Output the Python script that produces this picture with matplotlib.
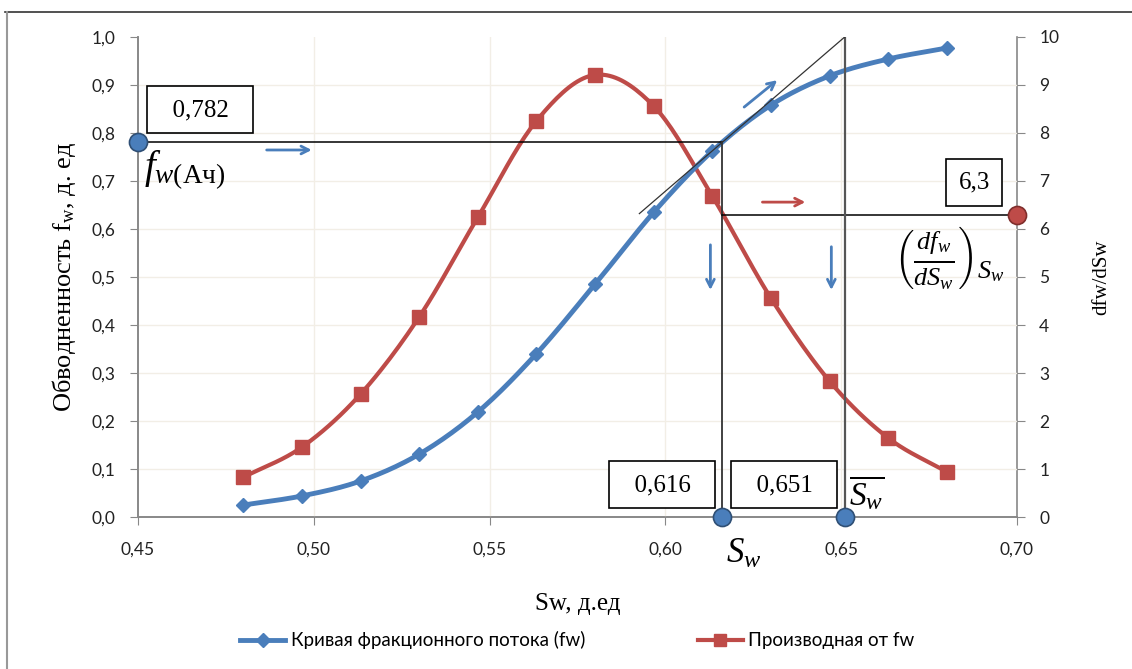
import numpy as np
import matplotlib
matplotlib.use("Agg")
import matplotlib.pyplot as plt
from matplotlib.lines import Line2D

# water saturation and fractional-flow values
sw = [0.48, 0.4967, 0.5133, 0.53, 0.5467, 0.5633, 0.58, 0.5967, 0.6133, 0.63, 0.6467, 0.6633, 0.68]
fw = [0.025, 0.044, 0.075, 0.131, 0.219, 0.340, 0.485, 0.635, 0.762, 0.858, 0.919, 0.954, 0.977]
dfw = [0.83, 1.46, 2.56, 4.17, 6.25, 8.25, 9.21, 8.56, 6.69, 4.56, 2.83, 1.65, 0.94]

fw_front = 0.782      # fw at the front
sw_front = 0.616      # Sw at the front
sw_avg = 0.651        # average Sw behind the front
dfw_front = 6.3       # slope of the tangent

x_ticks = [0.45, 0.50, 0.55, 0.60, 0.65, 0.70]
y_ticks = [i / 10 for i in range(11)]
y2_ticks = list(range(11))

BLUE = "#4A7EBB"
RED = "#BE4B48"
GRID = "#F2EEE6"

plt.rcParams["mathtext.fontset"] = "custom"
plt.rcParams["mathtext.rm"] = "Liberation Serif"
plt.rcParams["mathtext.it"] = "Liberation Serif:italic"
plt.rcParams["mathtext.bf"] = "Liberation Serif:bold"


def smooth(x, y, n=20):
    # Catmull-Rom curve through the points, like a smoothed spreadsheet line
    x = np.asarray(x, float)
    y = np.asarray(y, float)
    px = np.concatenate([[2 * x[0] - x[1]], x, [2 * x[-1] - x[-2]]])
    py = np.concatenate([[2 * y[0] - y[1]], y, [2 * y[-1] - y[-2]]])
    t = np.linspace(0, 1, n, endpoint=False)
    ox, oy = [], []
    for i in range(1, len(px) - 2):
        for p, out in ((px, ox), (py, oy)):
            p0, p1, p2, p3 = p[i - 1], p[i], p[i + 1], p[i + 2]
            out.extend(0.5 * (2 * p1 + (-p0 + p2) * t + (2 * p0 - 5 * p1 + 4 * p2 - p3) * t ** 2
                              + (-p0 + 3 * p1 - 3 * p2 + p3) * t ** 3))
    ox.append(x[-1])
    oy.append(y[-1])
    return np.array(ox), np.array(oy)


fig = plt.figure(figsize=(11.32, 6.69), dpi=100)
ax = fig.add_axes([0.1219, 0.2272, 0.7765, 0.7175])
ax2 = ax.twinx()
ax.set_zorder(ax2.get_zorder() + 1)
ax.patch.set_visible(False)
ax2.patch.set_facecolor("#FDF9F1")

ax.set_xlim(0.45, 0.70)
ax.set_ylim(0, 1.0)
ax2.set_ylim(0, 10)

for v in x_ticks[1:-1]:
    ax.axvline(v, color=GRID, lw=1, zorder=0)
for v in y_ticks[1:-1]:
    ax.axhline(v, color=GRID, lw=1, zorder=0)

# derivative curve (right axis, drawn in the left axes coordinates)
sx, sy = smooth(sw, dfw)
ax.plot(sx, sy / 10, color=RED, lw=3, zorder=3, solid_capstyle="round")
ax.plot(sw, np.array(dfw) / 10, ls="none", marker="s", ms=10, color=RED, zorder=4)

# fractional-flow curve
sx, sy = smooth(sw, fw)
ax.plot(sx, sy, color=BLUE, lw=3.5, zorder=5, solid_capstyle="round")
ax.plot(sw, fw, ls="none", marker="D", ms=7, color=BLUE, zorder=6)

# construction lines
k = "black"
ax.plot([0.45, sw_front], [fw_front, fw_front], color=k, lw=1.1, zorder=7)
ax.plot([sw_front, sw_front], [0, fw_front], color="#333333", lw=1.3, zorder=7)
ax.plot([sw_front, 0.70], [dfw_front / 10, dfw_front / 10], color=k, lw=1.1, zorder=7)
ax.plot([sw_avg, sw_avg], [0, 1.0], color="#555555", lw=1.6, zorder=7)
tx = np.array([0.5926, sw_avg])
ax.plot(tx, 1.0 + dfw_front * (tx - sw_avg), color="#333333", lw=0.9, zorder=7)

# points on the axes
ax.plot([0.45], [fw_front], "o", ms=13, mfc=BLUE, mec="#2F4F75", mew=1.2, clip_on=False, zorder=10)
ax.plot([sw_front, sw_avg], [0, 0], "o", ms=13, mfc=BLUE, mec="#2F4F75", mew=1.2,
        clip_on=False, ls="none", zorder=10)
ax.plot([0.70], [dfw_front / 10], "o", ms=13, mfc=RED, mec="#7F2E2C", mew=1.2, clip_on=False, zorder=10)

# direction arrows
arr = dict(arrowstyle="->,head_length=0.55,head_width=0.28", lw=2, shrinkA=0, shrinkB=0)
ax.annotate("", xy=(0.4994, 0.7646), xytext=(0.4866, 0.7646),
            arrowprops=dict(color=BLUE, **arr), zorder=8)
ax.annotate("", xy=(0.6398, 0.656), xytext=(0.6276, 0.656),
            arrowprops=dict(color=RED, **arr), zorder=8)
ax.annotate("", xy=(0.6128, 0.473), xytext=(0.6128, 0.567),
            arrowprops=dict(color=BLUE, **arr), zorder=8)
ax.annotate("", xy=(0.6472, 0.473), xytext=(0.6472, 0.563),
            arrowprops=dict(color=BLUE, **arr), zorder=8)
ax.annotate("", xy=(0.6318, 0.910), xytext=(0.6224, 0.854),
            arrowprops=dict(color=BLUE, **arr), zorder=8)

# value boxes
box = dict(boxstyle="square,pad=0.5", fc="white", ec="black", lw=1.2)
tfont = dict(family="Liberation Serif", fontsize=18, zorder=12)
sp = "\u2002"
ax.text(0.4677, 0.848, sp + "0,782" + sp, ha="center", va="center", bbox=box, **tfont)
ax.text(0.6878, 0.696, "6,3", ha="center", va="center", bbox=box, **tfont)
ax.text(0.5991, 0.0667, sp + "0,616" + sp, ha="center", va="center", bbox=box, **tfont)
ax.text(0.6338, 0.0667, sp + "0,651" + sp, ha="center", va="center", bbox=box, **tfont)

# formula labels
ax.text(0.4517, 0.766, r"$f_{w(\mathrm{Ач})}$", ha="left", va="top", fontsize=28, zorder=12)
ax.text(0.6522, 0.05, r"$\overline{S_w}$", ha="left", va="center", fontsize=24, zorder=12)
ax.text(0.6807, 0.54, r"$\left(\frac{df_w}{dS_w}\right)_{S_w}$", ha="center", va="center",
        fontsize=27, zorder=12)
ax.text(0.6224, -0.075, r"$S_w$", ha="center", va="center", fontsize=25,
        clip_on=False, zorder=12)

# axes styling
tick_font = dict(family="Lato", fontsize=12.5, color="#222222")
ax.set_xticks(x_ticks)
ax.set_xticklabels([f"{v:.2f}".replace(".", ",") for v in x_ticks], **tick_font)
ax.set_yticks(y_ticks)
ax.set_yticklabels([f"{v:.1f}".replace(".", ",") for v in y_ticks], **tick_font)
ax2.set_yticks(y2_ticks)
ax2.set_yticklabels([str(v) for v in y2_ticks], **tick_font)
ax.tick_params(axis="x", length=6, color="#888888", pad=12)
ax.tick_params(axis="y", length=6, color="#888888", pad=10)
ax2.tick_params(axis="y", length=6, color="#888888", pad=10)

for a in (ax, ax2):
    a.spines["top"].set_visible(False)
    for s in ("left", "right", "bottom"):
        a.spines[s].set_color("#888888")
        a.spines[s].set_linewidth(1.2)
ax.spines["right"].set_visible(False)

ax.set_xlabel("Sw, д.ед", family="Liberation Serif", fontsize=18, labelpad=25)
ax.set_ylabel("Обводненность f$_\\mathregular{w}$, д. ед", family="Liberation Serif",
              fontsize=19, labelpad=10)
ax2.set_ylabel("dfw/dSw", family="Liberation Serif", fontsize=15, rotation=90, labelpad=24)

handles = [
    Line2D([], [], color=BLUE, lw=3.5, marker="D", ms=7),
    Line2D([], [], color=RED, lw=3, marker="s", ms=9),
]
fig.legend(handles, ["Кривая фракционного потока (fw)", "Производная от fw"],
           loc="center", bbox_to_anchor=(0.51, 0.043), ncol=2, frameon=False,
           prop=dict(family="Lato", size=13.5), columnspacing=6, handlelength=2.4, handletextpad=0.3)

# frame lines round the chart
fig.add_artist(Line2D([0.004, 1.0], [0.982, 0.982], color="#333333", lw=1.2))
fig.add_artist(Line2D([0.006, 0.006], [0.0, 0.982], color="#999999", lw=1.5))

fig.savefig("out.png", dpi=100)
